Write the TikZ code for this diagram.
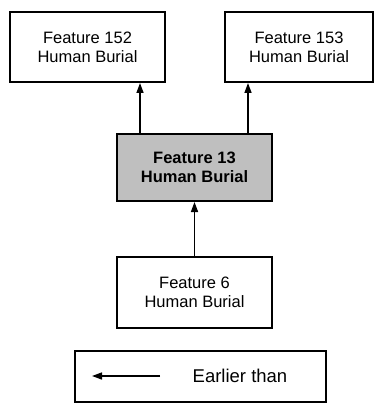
\documentclass[tikz,border=0pt]{standalone}
\usepackage{fontspec}
\setmainfont{Liberation Sans}
\usepackage{tikz}
\usetikzlibrary{arrows.meta, positioning}

\tikzset{
  burial/.style={draw, line width=2pt, align=center, inner sep=0pt,
    font=\fontsize{16.5}{19}\selectfont},
  later/.style={burial, fill=black!25, font=\fontsize{16.5}{19}\selectfont\bfseries},
}

\begin{document}
\begin{tikzpicture}[x=1pt, y=-1pt, >={Triangle[length=10pt,width=7pt]}, line width=1.5pt]
      \useasboundingbox (0,0) rectangle (375,403);
      \node[burial, minimum width=155pt, minimum height=70pt] (f152) at (87.5,47) {Feature 152\\Human Burial};
      \node[burial, minimum width=148pt, minimum height=70pt] (f153) at (299,47) {Feature 153\\Human Burial};
      \node[later, minimum width=155pt, minimum height=67pt] (f13) at (194.5,167.5) {Feature 13\\Human Burial};
      \node[burial, minimum width=155pt, minimum height=71pt] (f6) at (194.5,292.5) {Feature 6\\Human Burial};

      \path[->] ([xshift=24pt]f13.north west) edge ([xshift=24pt]f13.north west |- f152.south)
                ([xshift=-25pt]f13.north east) edge ([xshift=-25pt]f13.north east |- f153.south)
                (f6.north) edge (f13.south)
                ;

      % legend
      \node[draw, line width=1.8pt, minimum width=251pt, minimum height=51pt] (key) at (200.5,376.5) {};
      \coordinate (keyfrom) at (160,376);
      \coordinate (keyto) at (92,376);
      \draw[->] (keyfrom) -- (keyto);
      \node[font=\fontsize{18.5}{22}\selectfont] (keytext) at (240,376) {Earlier than};
    \end{tikzpicture}
\end{document}
